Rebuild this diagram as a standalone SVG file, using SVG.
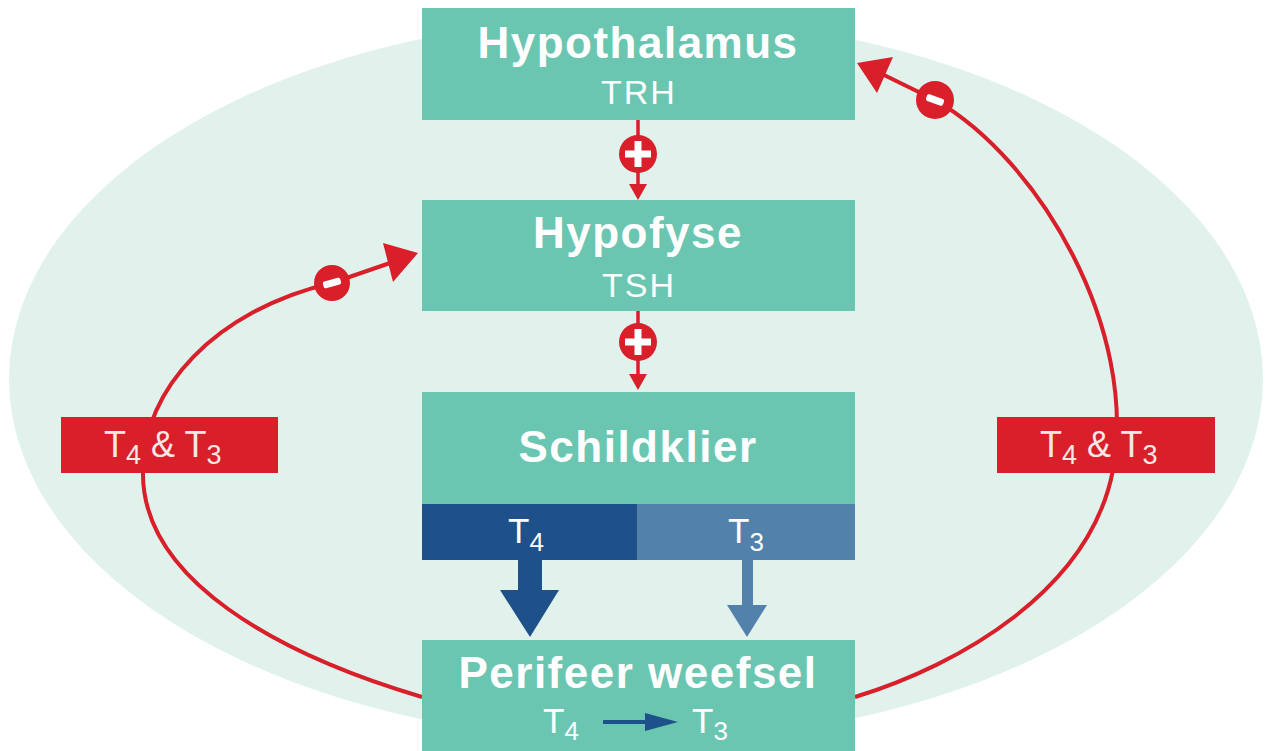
<svg xmlns="http://www.w3.org/2000/svg" width="1267" height="751" viewBox="0 0 1267 751">
<style>
.box{fill:#6bc6b1}
.title{font-family:"Liberation Sans",Arial,sans-serif;font-weight:bold;font-size:44px;fill:#ffffff;text-anchor:middle;letter-spacing:1.5px}
.sub{font-family:"Liberation Sans",Arial,sans-serif;font-size:34px;fill:#ffffff;text-anchor:middle;letter-spacing:2px}
.t{font-family:"Liberation Sans",Arial,sans-serif;fill:#ffffff}
.lbl{font-family:"Liberation Sans",Arial,sans-serif;fill:#fbe6e6}
.red{fill:#d81f2a}
.redline{fill:none;stroke:#d81f2a;stroke-width:4}
.sign{fill:#ffffff}
</style>
<rect x="0" y="0" width="1267" height="751" fill="#ffffff"/>
<ellipse id="background" cx="636" cy="379" rx="627" ry="362" fill="#e1f1ec"/>

<g id="connectors">
  <line class="redline" x1="638" y1="120" x2="638" y2="186" style="stroke-width:3.5"/>
  <polygon class="red" points="629,184 647,184 638,200"/>
  <line class="redline" x1="638" y1="311" x2="638" y2="376" style="stroke-width:3.5"/>
  <polygon class="red" points="629,374 647,374 638,390"/>
  <polygon fill="#1e5189" points="518,560 542,560 542,590 559,590 530,637 500,590 518,590"/>
  <polygon fill="#5282ab" points="742,560 753,560 753,605 767,605 747,637 727,605 742,605"/>
  <path class="redline" d="M 422 697 C 280 655, 140 580, 143 470 C 143 390, 215 310, 332 283 L 390 263"/>
  <polygon class="red" points="418,253 383,243 393,282"/>
  <path class="redline" d="M 855 697 C 960 665, 1090 590, 1113 470 C 1138 330, 1040 160, 935 100 L 884 75"/>
  <polygon class="red" points="857,63 893,57 877,93"/>
</g>

<g id="plus1">
  <circle class="red" cx="638" cy="154" r="19"/>
  <rect class="sign" x="625" y="150.5" width="26" height="7"/>
  <rect class="sign" x="634.5" y="141" width="7" height="26"/>
</g>
<g id="plus2">
  <circle class="red" cx="638" cy="342" r="19"/>
  <rect class="sign" x="625" y="338.5" width="26" height="7"/>
  <rect class="sign" x="634.5" y="329" width="7" height="26"/>
</g>
<g id="minus-left">
  <circle class="red" cx="332" cy="283" r="18"/>
  <rect class="sign" x="323" y="279.5" width="18" height="7" rx="2" transform="rotate(-15 332 283)"/>
</g>
<g id="minus-right">
  <circle class="red" cx="935" cy="100" r="19"/>
  <rect class="sign" x="926" y="96.5" width="18" height="7" rx="2" transform="rotate(20 935 100)"/>
</g>

<g id="hypothalamus">
  <rect class="box" x="422" y="8" width="433" height="112"/>
  <text class="title" x="638" y="58">Hypothalamus</text>
  <text class="sub" x="639" y="104">TRH</text>
</g>
<g id="hypofyse">
  <rect class="box" x="422" y="200" width="433" height="111"/>
  <text class="title" x="638" y="248">Hypofyse</text>
  <text class="sub" x="639" y="297">TSH</text>
</g>
<g id="schildklier">
  <rect class="box" x="422" y="392" width="433" height="112"/>
  <text class="title" x="638" y="462">Schildklier</text>
  <rect x="422" y="504" width="215" height="56" fill="#1e5189"/>
  <rect x="637" y="504" width="218" height="56" fill="#5282ab"/>
  <text class="t" x="508" y="543" font-size="35">T<tspan font-size="26" dy="8">4</tspan></text>
  <text class="t" x="728" y="543" font-size="35">T<tspan font-size="26" dy="8">3</tspan></text>
</g>
<g id="perifeer">
  <rect class="box" x="422" y="640" width="433" height="111"/>
  <text class="title" x="638" y="688">Perifeer weefsel</text>
  <text class="t" x="543" y="733" font-size="35">T<tspan font-size="26" dy="7">4</tspan></text>
  <line x1="603" y1="722" x2="650" y2="722" stroke="#1e5189" stroke-width="4"/>
  <polygon fill="#1e5189" points="645,713 678,722 645,731"/>
  <text class="t" x="692" y="733" font-size="35">T<tspan font-size="26" dy="7">3</tspan></text>
</g>

<g id="label-left">
  <rect class="red" x="61" y="417" width="217" height="56"/>
  <text class="lbl" x="104" y="457" font-size="36">T<tspan font-size="27" dy="7">4</tspan><tspan dy="-7"> &amp; T</tspan><tspan font-size="27" dy="7">3</tspan></text>
</g>
<g id="label-right">
  <rect class="red" x="997" y="417" width="218" height="56"/>
  <text class="lbl" x="1040" y="457" font-size="36">T<tspan font-size="27" dy="7">4</tspan><tspan dy="-7"> &amp; T</tspan><tspan font-size="27" dy="7">3</tspan></text>
</g>
</svg>
